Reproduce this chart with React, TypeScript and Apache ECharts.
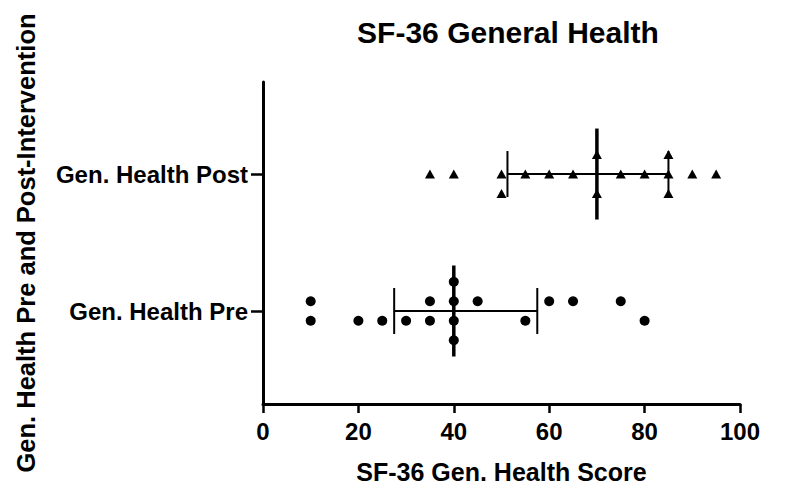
import React, { useEffect, useRef } from "react";
import * as echarts from "echarts";

const categories = ["Gen. Health Pre", "Gen. Health Post"];
const xTicks = [0, 20, 40, 60, 80, 100];

const preScores = [10, 10, 20, 25, 30, 35, 35, 40, 40, 40, 40, 45, 55, 60, 65, 75, 80];
const preLanes = [0.5, -0.5, -0.5, -0.5, -0.5, 0.5, -0.5, 1.5, 0.5, -0.5, -1.5, 0.5, -0.5, 0.5, 0.5, 0.5, -0.5];

const postScores = [35, 40, 50, 50, 55, 60, 65, 70, 70, 75, 80, 85, 85, 85, 90, 95];
const postLanes = [0, 0, 0, -1, 0, 0, 0, 1, -1, 0, 0, 1, 0, -1, 0, 0];

const medians = [40, 70];
const q1s = [27.5, 51.25];
const q3s = [57.5, 85];

const FONT = "'Liberation Sans', Arial, Helvetica, sans-serif";
const LANE_STEP = 0.1423;

export default function App() {
  const ref = useRef<HTMLDivElement>(null);
  useEffect(() => {
    if (!ref.current) return;
    const chart = echarts.init(ref.current, null, { renderer: "svg" });
    const preData = preScores.map((v, i) => [v, 1 + preLanes[i] * LANE_STEP]);
    const postData = postScores.map((v, i) => [v, 2 + postLanes[i] * LANE_STEP]);
    const barData = categories.map((c, i) => [medians[i], q1s[i], q3s[i], i + 1]);

    chart.setOption({
      animation: false,
      backgroundColor: "#ffffff",
      title: {
        text: "SF-36 General Health",
        left: 503,
        top: 12,
        textAlign: "center",
        textStyle: { fontFamily: FONT, fontWeight: "bold", fontSize: 30, color: "#000" },
      },
      grid: { left: 263, right: 60, top: 82, bottom: 95, containLabel: false },
      xAxis: {
        type: "value",
        min: 0,
        max: 100,
        interval: 20,
        name: "SF-36 Gen. Health Score",
        nameLocation: "middle",
        nameGap: 55,
        nameTextStyle: { fontFamily: FONT, fontWeight: "bold", fontSize: 25, color: "#000" },
        axisLine: { show: true, lineStyle: { color: "#000", width: 3 } },
        axisTick: { show: true, length: 9, lineStyle: { color: "#000", width: 2.5 } },
        axisLabel: {
          margin: 15,
          fontFamily: FONT,
          fontWeight: "bold",
          fontSize: 24,
          color: "#000",
          formatter: (v: number) => (xTicks.includes(v) ? String(v) : ""),
        },
        splitLine: { show: false },
      },
      yAxis: {
        type: "value",
        min: 0.321,
        max: 2.672,
        name: "Gen. Health Pre and Post-Intervention",
        nameLocation: "middle",
        nameRotate: 90,
        nameGap: 224,
        nameTextStyle: { fontFamily: FONT, fontWeight: "bold", fontSize: 25.5, color: "#000" },
        axisLine: { show: true, lineStyle: { color: "#000", width: 3 } },
        axisTick: { show: true, length: 12, customValues: [1, 2], lineStyle: { color: "#000", width: 2.5 } },
        axisLabel: {
          customValues: [1, 2],
          margin: 15,
          fontFamily: FONT,
          fontWeight: "bold",
          fontSize: 24,
          color: "#000",
          formatter: (v: number) => categories[Math.round(v) - 1] ?? "",
        },
        splitLine: { show: false },
      },
      series: [
        {
          type: "custom",
          data: barData,
          encode: { x: [0, 1, 2], y: 3 },
          z: 2,
          renderItem: (params: any, api: any) => {
            const y = api.value(3);
            const m = api.coord([api.value(0), y]);
            const a = api.coord([api.value(1), y]);
            const b = api.coord([api.value(2), y]);
            const thin = { stroke: "#000", lineWidth: 2 };
            return {
              type: "group",
              children: [
                { type: "line", shape: { x1: a[0], y1: a[1], x2: b[0], y2: b[1] }, style: thin },
                { type: "line", shape: { x1: a[0], y1: a[1] - 23, x2: a[0], y2: a[1] + 23 }, style: thin },
                { type: "line", shape: { x1: b[0], y1: b[1] - 23, x2: b[0], y2: b[1] + 23 }, style: thin },
                {
                  type: "line",
                  shape: { x1: m[0], y1: m[1] - 45.5, x2: m[0], y2: m[1] + 45.5 },
                  style: { stroke: "#000", lineWidth: 3.5 },
                },
              ],
            };
          },
        },
        {
          type: "scatter",
          name: categories[0],
          data: preData,
          symbol: "circle",
          symbolSize: 10,
          itemStyle: { color: "#000", opacity: 1 },
          z: 3,
        },
        {
          type: "scatter",
          name: categories[1],
          data: postData,
          symbol: "triangle",
          symbolSize: [10, 9],
          itemStyle: { color: "#000", opacity: 1 },
          z: 3,
        },
      ],
    });
    return () => chart.dispose();
  }, []);
  return (
    <div
      ref={ref}
      style={{ position: "fixed", left: 0, top: 0, width: 800, height: 499, background: "#fff" }}
    />
  );
}
